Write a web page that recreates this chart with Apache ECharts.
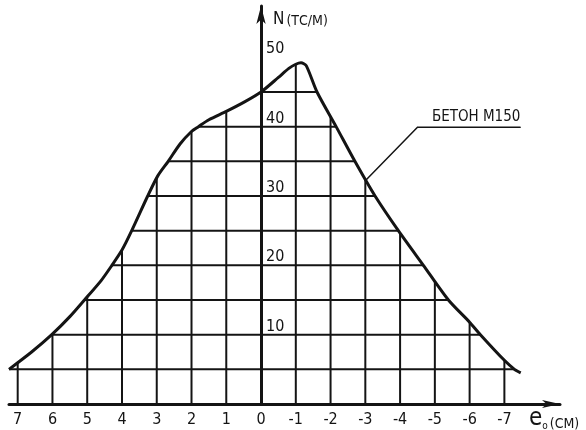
<!DOCTYPE html>
<html>
<head>
<meta charset="utf-8">
<script src="https://cdn.jsdelivr.net/npm/echarts@6/dist/echarts.min.js"></script>
<style>
  html, body { margin: 0; padding: 0; background: #fff; }
  #chart { width: 586px; height: 430px; }
</style>
</head>
<body>
<div id="chart"></div>
<script>
// Кривая несущей способности, бетон М150
// ось X перевернута: +7 слева, -7 справа

const FONT = 'DejaVu Sans Condensed';
const INK = '#141414';

// подписи осей
const eTicks = [7, 6, 5, 4, 3, 2, 1, 0, -1, -2, -3, -4, -5, -6, -7];
const nTicks = [10, 20, 30, 40, 50];
// уровни горизонтальной сетки (тс/м)
const nLevels = [5, 10, 15, 20, 25, 30, 35, 40, 45];

// точки кривой: эксцентриситет e0 (см) и N (тс/м)
const e0 = [7.25, 6.6, 6.02, 5.5, 5.08, 4.6, 4.29, 4.0, 3.72, 3.26, 2.97, 2.67, 2.33, 2.0, 1.8, 1.5, 1.0, 0.5, 0.0,
  -0.5, -0.8, -1.0, -1.15, -1.3, -1.61, -2.16, -2.7, -3.28, -3.95, -4.67, -5.39, -6.0, -6.31, -7.0, -7.29, -7.47];
const nForce = [5, 7.5, 10, 12.6, 15, 17.8, 20, 22.2, 25, 30, 32.9, 35, 37.5, 39.3, 40, 41.0, 42.2, 43.5, 45,
  47.1, 48.4, 49.0, 49.2, 48.8, 45, 40, 35, 30, 25, 20, 15, 11.8, 10, 6.3, 5, 4.5];

// выноска подписи
const leaderE = [-3.02, -4.5, -7.46];
const leaderN = [32.3, 39.9, 39.9];
const curveName = 'БЕТОН М150';

// ─────────── сетка внутри кривой ───────────
function curveAt(x) {
  for (let i = 0; i < e0.length - 1; i++) {
    const a = e0[i], b = e0[i + 1];
    if ((a - x) * (b - x) <= 0 && a !== b) {
      return nForce[i] + (nForce[i + 1] - nForce[i]) * (x - a) / (b - a);
    }
  }
  return 0;
}

function crossings(level) {
  const xs = [];
  for (let i = 0; i < e0.length - 1; i++) {
    const a = nForce[i], b = nForce[i + 1];
    if ((a - level) * (b - level) <= 0 && a !== b) {
      xs.push(e0[i] + (e0[i + 1] - e0[i]) * (level - a) / (b - a));
    }
  }
  return [xs[0], xs[xs.length - 1]];
}

const gridSegs = [];
eTicks.forEach(x => gridSegs.push([x, 0, x, curveAt(x)]));
nLevels.forEach(l => {
  const c = crossings(l);
  gridSegs.push([c[0], l, c[1], l]);
});

// геометрия поля
const GRID_LEFT = 9, GRID_W = 551;
const X_MIN = -8.6, X_MAX = 7.25;
const zeroShift = GRID_W * X_MAX / (X_MAX - X_MIN);

const chart = echarts.init(document.getElementById('chart'));

const leaderData = leaderE.map((e, i) => [e, leaderN[i]]);
leaderData[leaderData.length - 1] = {
  value: leaderData[leaderData.length - 1],
  label: {
    show: true, formatter: curveName, position: 'top', align: 'right', distance: 2,
    fontFamily: FONT, fontSize: 15, color: INK,
  },
};

chart.setOption({
  animation: false,
  backgroundColor: '#fff',
  title: [
    {
      text: '{n|N}{u|(ТС/М)}', left: 268, top: 6,
      textStyle: { fontWeight: 'normal', rich: {
        n: { fontFamily: FONT, fontSize: 17, color: INK, verticalAlign: 'bottom' },
        u: { fontFamily: FONT, fontSize: 14, color: INK, verticalAlign: 'bottom', padding: [0, 0, 0, 2] },
      } },
    },
    {
      text: '{e|e}{s|о}{u|(СМ)}', left: 524, top: 402,
      textStyle: { fontWeight: 'normal', rich: {
        e: { fontFamily: FONT, fontSize: 24, color: INK, verticalAlign: 'bottom' },
        s: { fontFamily: FONT, fontSize: 10, color: INK, verticalAlign: 'bottom' },
        u: { fontFamily: FONT, fontSize: 14, color: INK, verticalAlign: 'bottom', padding: [0, 0, 0, 2] },
      } },
    },
  ],
  grid: { left: GRID_LEFT, top: 6, width: GRID_W, height: 398, containLabel: false },
  xAxis: {
    type: 'value', inverse: true, min: X_MIN, max: X_MAX,
    axisLine: { onZero: false, symbol: ['none', 'arrow'], symbolSize: [6, 18], lineStyle: { color: INK, width: 3 } },
    axisTick: { show: false },
    splitLine: { show: false },
    axisLabel: {
      customValues: eTicks, margin: 8, fontFamily: FONT, fontSize: 16, color: INK,
      formatter: v => String(v),
    },
  },
  yAxis: {
    type: 'value', min: 0, max: 57.4,
    offset: -zeroShift,
    axisLine: { onZero: false, symbol: ['none', 'arrow'], symbolSize: [7, 18], lineStyle: { color: INK, width: 3 } },
    axisTick: { show: false },
    splitLine: { show: false },
    axisLabel: {
      customValues: nTicks, inside: true, margin: 5, verticalAlign: 'bottom',
      fontFamily: FONT, fontSize: 16, color: INK,
    },
  },
  series: [
    {
      name: 'сетка', type: 'custom', silent: true, z: 1,
      data: gridSegs,
      encode: { x: [0, 2], y: [1, 3] },
      renderItem: (params, api) => {
        const p1 = api.coord([api.value(0), api.value(1)]);
        const p2 = api.coord([api.value(2), api.value(3)]);
        return {
          type: 'line',
          shape: { x1: p1[0], y1: p1[1], x2: p2[0], y2: p2[1] },
          style: { stroke: INK, lineWidth: 2 },
        };
      },
    },
    {
      name: curveName, type: 'line', z: 3,
      data: e0.map((e, i) => [e, nForce[i]]),
      smooth: 0.25, symbol: 'none',
      lineStyle: { color: INK, width: 3 },
    },
    {
      name: 'выноска', type: 'line', z: 4,
      data: leaderData,
      symbol: 'circle', symbolSize: 1, showSymbol: true,
      itemStyle: { color: INK },
      lineStyle: { color: INK, width: 1.5 },
    },
  ],
});
</script>
</body>
</html>
